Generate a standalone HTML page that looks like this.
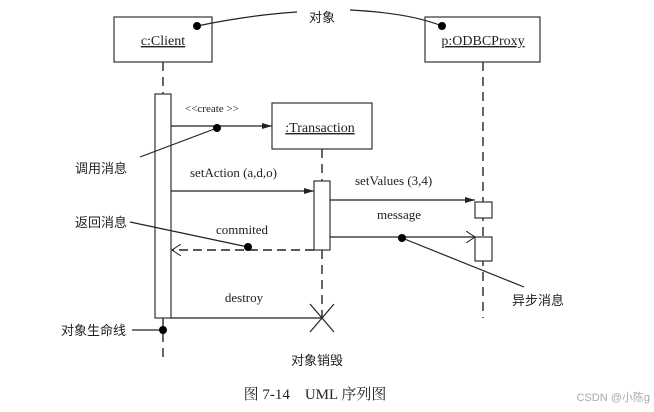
<!DOCTYPE html>
<html><head><meta charset="utf-8"><style>
body{margin:0;background:#fff;}
svg text{font-family:"Liberation Serif","Noto Serif CJK SC",serif;font-size:13px;fill:#222;}
.cn{font-family:"Liberation Sans","Noto Sans CJK SC",sans-serif;font-size:13px;}
</style></head><body>
<svg width="654" height="407" viewBox="0 0 654 407" xmlns="http://www.w3.org/2000/svg">
<defs>
<marker id="fa" markerWidth="10" markerHeight="8" refX="10" refY="4" orient="auto" markerUnits="userSpaceOnUse"><path d="M0,1 L10,4 L0,7 z" fill="#222"/></marker>
<marker id="oa" markerWidth="10" markerHeight="12" refX="9" refY="6" orient="auto" markerUnits="userSpaceOnUse"><path d="M0,0 L9,6 L0,12" fill="none" stroke="#222" stroke-width="1"/></marker>
</defs>
<g stroke="#333" stroke-width="1.2" fill="#fff">
<rect x="114" y="17" width="98" height="45"/>
<rect x="425" y="17" width="115" height="45"/>
<rect x="272" y="103" width="100" height="46"/>
</g>
<g stroke="#333" stroke-width="1.5" stroke-dasharray="9,6" fill="none">
<line x1="163" y1="62" x2="163" y2="94"/>
<line x1="163" y1="318" x2="163" y2="360"/>
<line x1="483" y1="62" x2="483" y2="318"/>
<line x1="322" y1="149" x2="322" y2="181"/>
<line x1="322" y1="250" x2="322" y2="318"/>
</g>
<g stroke="#333" stroke-width="1.2" fill="#fff">
<rect x="155" y="94" width="16" height="224"/>
<rect x="314" y="181" width="16" height="69"/>
<rect x="475" y="202" width="17" height="16"/>
<rect x="475" y="237" width="17" height="24"/>
</g>
<g stroke="#222" stroke-width="1.2" fill="none">
<line x1="171" y1="126" x2="272" y2="126" marker-end="url(#fa)"/>
<line x1="171" y1="191" x2="314" y2="191" marker-end="url(#fa)"/>
<line x1="330" y1="200" x2="475" y2="200" marker-end="url(#fa)"/>
<line x1="330" y1="237" x2="475" y2="237" marker-end="url(#oa)"/>
<line x1="314" y1="250" x2="172" y2="250" stroke-dasharray="9,5" stroke-width="1.6" marker-end="url(#oa)"/>
<line x1="171" y1="318" x2="322" y2="318"/>
<line x1="310" y1="304" x2="334" y2="332"/>
<line x1="334" y1="304" x2="310" y2="332"/>
<path d="M297,12 Q250,15 197,26"/>
<path d="M350,10 Q410,13 442,26"/>
<line x1="140" y1="157" x2="217" y2="128"/>
<line x1="130" y1="222" x2="248" y2="247"/>
<line x1="402" y1="238" x2="524" y2="287"/>
<line x1="132" y1="330" x2="163" y2="330"/>
</g>
<g fill="#000">
<circle cx="197" cy="26" r="4"/><circle cx="442" cy="26" r="4"/>
<circle cx="217" cy="128" r="4"/><circle cx="248" cy="247" r="4"/>
<circle cx="402" cy="238" r="4"/><circle cx="163" cy="330" r="4"/>
</g>
<text x="163" y="45" text-anchor="middle" text-decoration="underline" style="font-size:14px">c:Client</text>
<text x="483" y="45" text-anchor="middle" text-decoration="underline" style="font-size:14px">p:ODBCProxy</text>
<text x="320" y="132" text-anchor="middle" text-decoration="underline" style="font-size:14px">:Transaction</text>
<text x="185" y="112" style="font-size:11px">&lt;&lt;create &gt;&gt;</text>
<text x="190" y="177">setAction  (a,d,o)</text>
<text x="355" y="185">setValues  (3,4)</text>
<text x="399" y="219" text-anchor="middle">message</text>
<text x="242" y="234" text-anchor="middle">commited</text>
<text x="244" y="302" text-anchor="middle">destroy</text>
<text x="322" y="22" text-anchor="middle" class="cn">对象</text>
<text x="75" y="173" class="cn">调用消息</text>
<text x="75" y="227" class="cn">返回消息</text>
<text x="512" y="305" class="cn">异步消息</text>
<text x="61" y="335" class="cn">对象生命线</text>
<text x="317" y="365" text-anchor="middle" class="cn">对象销毁</text>
<text x="315" y="399" text-anchor="middle" style="font-size:15px">图 7-14　UML 序列图</text>
<text x="650" y="401" text-anchor="end" class="cn" style="font-size:11px;fill:#aaa">CSDN @小陈g</text>
</svg>
</body></html>
